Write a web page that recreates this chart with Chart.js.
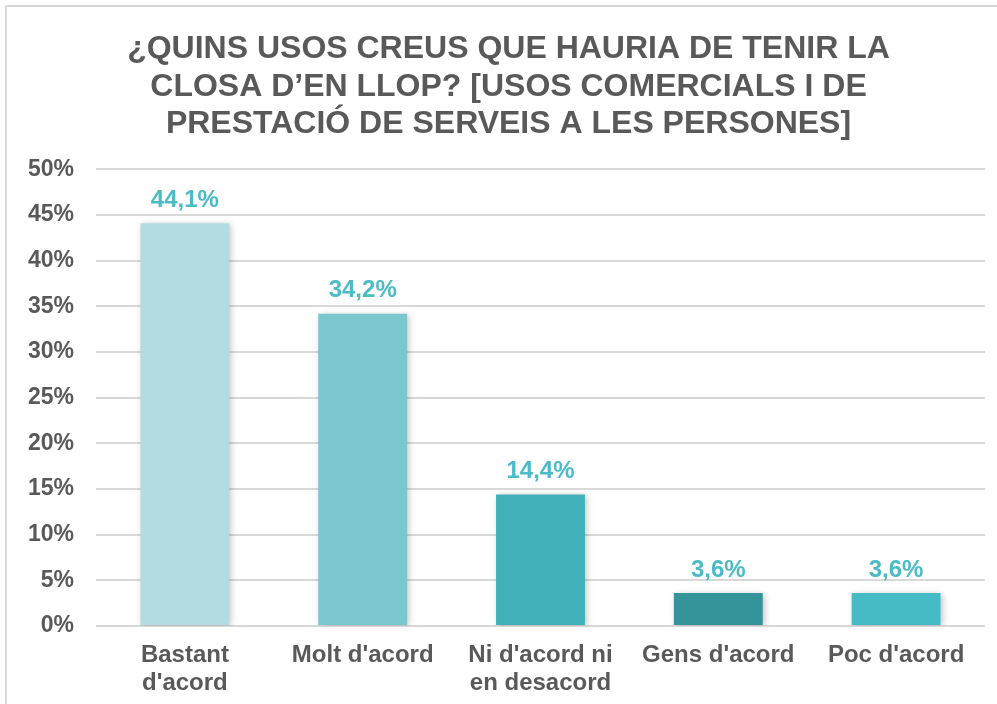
<!DOCTYPE html>
<html>
<head>
<meta charset="utf-8">
<script src="https://cdn.jsdelivr.net/npm/chart.js@4.4.1/dist/chart.umd.min.js"></script>
<style>
  body { margin: 0; background: #fff; overflow: hidden; }
  #wrap { position: relative; width: 997px; height: 704px; }
  #frame { position: absolute; left: 5px; top: 5px; width: 1000px; height: 710px;
           border: 2px solid #d9d9d9; box-sizing: border-box; }
</style>
</head>
<body>
<div id="wrap">
  <div id="frame"></div>
  <canvas id="chart"></canvas>
</div>
<script>
const titleLines = [
  '¿QUINS USOS CREUS QUE HAURIA DE TENIR LA',
  'CLOSA D’EN LLOP? [USOS COMERCIALS I DE',
  'PRESTACIÓ DE SERVEIS A LES PERSONES]'
];

const categories = [
  ['Bastant', "d'acord"],
  "Molt d'acord",
  ["Ni d'acord ni", 'en desacord'],
  "Gens d'acord",
  "Poc d'acord"
];

const values = [44.1, 34.2, 14.4, 3.6, 3.6];

const barColors = ['#b4dce0', '#7ac8ce', '#41b0b8', '#35939a', '#46bac5'];

const gray = '#595959';
const labelColor = '#4bbcc6';
const fontFamily = "'Liberation Sans', Arial, sans-serif";

// values on top of the bars
const valueLabels = {
  id: 'valueLabels',
  afterDatasetsDraw(chart) {
    const ctx = chart.ctx;
    const meta = chart.getDatasetMeta(0);
    ctx.save();
    ctx.font = 'bold 24px ' + fontFamily;
    ctx.fillStyle = labelColor;
    ctx.textAlign = 'center';
    ctx.textBaseline = 'bottom';
    meta.data.forEach((bar, i) => {
      const txt = values[i].toFixed(1).replace('.', ',') + '%';
      ctx.fillText(txt, bar.x, bar.y - 11);
    });
    ctx.restore();
  }
};

// soft shadow like the original
const barShadow = {
  id: 'barShadow',
  beforeDatasetsDraw(chart) {
    const ctx = chart.ctx;
    ctx.save();
    ctx.shadowColor = 'rgba(0,0,0,0.22)';
    ctx.shadowBlur = 6;
    ctx.shadowOffsetX = 2;
    ctx.shadowOffsetY = 1;
  },
  afterDatasetsDraw(chart) {
    chart.ctx.restore();
  }
};

// the title in the original sits a bit right of the canvas centre
const titleShift = {
  id: 'titleShift',
  afterLayout(chart) {
    if (chart.titleBlock) chart.titleBlock.left = 32;
  }
};

new Chart(document.getElementById('chart'), {
  type: 'bar',
  data: {
    labels: categories,
    datasets: [{
      data: values,
      backgroundColor: barColors,
      borderWidth: 0,
      categoryPercentage: 1,
      barPercentage: 0.5
    }]
  },
  options: {
    responsive: true,
    maintainAspectRatio: false,
    animation: false,
    layout: { padding: { left: 0, right: 12, top: 0, bottom: 6 } },
    plugins: {
      legend: { display: false },
      tooltip: { enabled: false },
      title: {
        display: true,
        text: titleLines,
        color: gray,
        font: { family: fontFamily, size: 32, weight: 'bold', lineHeight: 1.16 },
        padding: { top: 31, bottom: 27 }
      }
    },
    scales: {
      x: {
        grid: { display: false },
        border: { display: false },
        afterFit(scale) { scale.height = 72; },
        ticks: {
          color: gray,
          padding: 7,
          maxRotation: 0,
          autoSkip: false,
          font: { family: fontFamily, size: 24, weight: 'bold', lineHeight: 1.17 }
        }
      },
      y: {
        min: 0,
        max: 50,
        border: { display: false },
        grid: { color: '#d9d9d9', lineWidth: 2, drawTicks: false },
        afterFit(scale) { scale.width = 96; },
        ticks: {
          stepSize: 5,
          color: gray,
          padding: 22,
          font: { family: fontFamily, size: 23, weight: 'bold' },
          callback: v => v + '%'
        }
      }
    }
  },
  plugins: [barShadow, valueLabels, titleShift]
});
</script>
</body>
</html>
